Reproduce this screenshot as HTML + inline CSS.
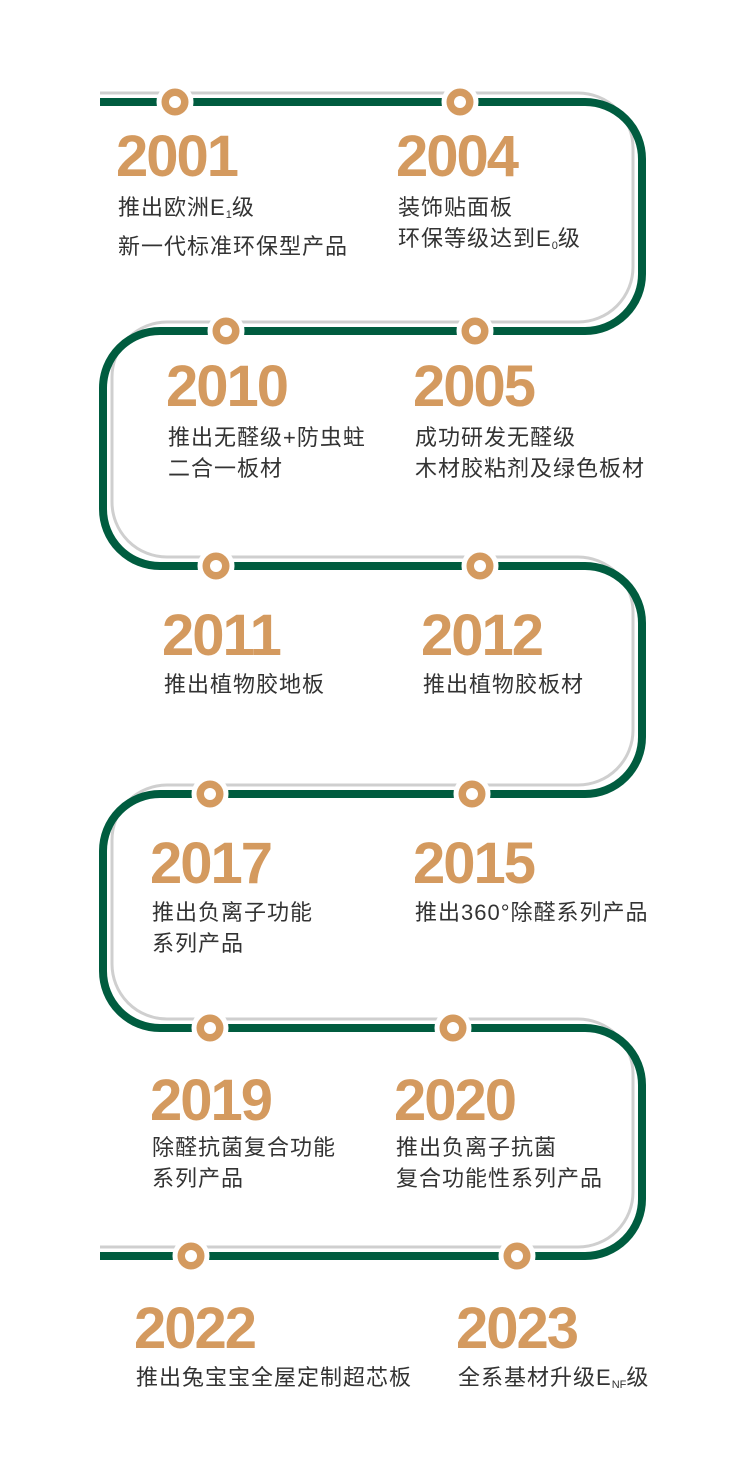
<!DOCTYPE html>
<html><head><meta charset="utf-8"><style>
body{margin:0;background:#fff;}
#w{position:relative;width:751px;height:1471px;overflow:hidden;background:#fff;font-family:"Liberation Sans","Noto Sans CJK SC",sans-serif;}
.y{position:absolute;color:#D49A5F;font-weight:bold;font-size:58px;letter-spacing:-2px;line-height:62px;}
.d{position:absolute;color:#333;font-size:22px;letter-spacing:1px;line-height:31px;white-space:nowrap;font-family:"Liberation Sans","Noto Sans CJK SC",sans-serif;}
sub{font-size:11px;vertical-align:-3px;letter-spacing:0}
svg{position:absolute;left:0;top:0}
</style></head><body><div id="w">
<svg width="751" height="1471">
<path d="M100 93 H578 A55 55 0 0 1 633 148 V267 A55 55 0 0 1 578 322 H167 A55 55 0 0 0 112 377 V502 A55 55 0 0 0 167 557 H578 A55 55 0 0 1 633 612 V730 A55 55 0 0 1 578 785 H167 A55 55 0 0 0 112 840 V964 A55 55 0 0 0 167 1019 H578 A55 55 0 0 1 633 1074 V1192 A55 55 0 0 1 578 1247 H100" fill="none" stroke="#cfcfcf" stroke-width="3"/>
<path d="M100 102 H585 A57 57 0 0 1 642 159 V274 A57 57 0 0 1 585 331 H160 A57 57 0 0 0 103 388 V509 A57 57 0 0 0 160 566 H585 A57 57 0 0 1 642 623 V737 A57 57 0 0 1 585 794 H160 A57 57 0 0 0 103 851 V971 A57 57 0 0 0 160 1028 H585 A57 57 0 0 1 642 1085 V1199 A57 57 0 0 1 585 1256 H100" fill="none" stroke="#005C3F" stroke-width="8"/>
<g fill="#D49A5F" stroke="#fff" stroke-width="5">
<circle cx="175" cy="102" r="16"/><circle cx="460" cy="102" r="16"/>
<circle cx="226" cy="331" r="16"/><circle cx="475" cy="331" r="16"/>
<circle cx="216" cy="566" r="16"/><circle cx="480" cy="566" r="16"/>
<circle cx="210" cy="794" r="16"/><circle cx="472" cy="794" r="16"/>
<circle cx="210" cy="1028" r="16"/><circle cx="453" cy="1028" r="16"/>
<circle cx="191" cy="1256" r="16"/><circle cx="517" cy="1256" r="16"/>
</g>
<g fill="#fff">
<circle cx="175" cy="102" r="6"/><circle cx="460" cy="102" r="6"/>
<circle cx="226" cy="331" r="6"/><circle cx="475" cy="331" r="6"/>
<circle cx="216" cy="566" r="6"/><circle cx="480" cy="566" r="6"/>
<circle cx="210" cy="794" r="6"/><circle cx="472" cy="794" r="6"/>
<circle cx="210" cy="1028" r="6"/><circle cx="453" cy="1028" r="6"/>
<circle cx="191" cy="1256" r="6"/><circle cx="517" cy="1256" r="6"/>
</g>
</svg>
<div class="y" style="left:116px;top:126px">2001</div>
<div class="d" style="left:118px;top:192px">推出欧洲E<sub>1</sub>级<br>新一代标准环保型产品</div>
<div class="y" style="left:396px;top:126px">2004</div>
<div class="d" style="left:398px;top:192px">装饰贴面板<br>环保等级达到E<sub>0</sub>级</div>
<div class="y" style="left:166px;top:356px">2010</div>
<div class="d" style="left:168px;top:422px">推出无醛级+防虫蛀<br>二合一板材</div>
<div class="y" style="left:413px;top:356px">2005</div>
<div class="d" style="left:415px;top:422px">成功研发无醛级<br>木材胶粘剂及绿色板材</div>
<div class="y" style="left:162px;top:605px">2011</div>
<div class="d" style="left:164px;top:669px">推出植物胶地板</div>
<div class="y" style="left:421px;top:605px">2012</div>
<div class="d" style="left:423px;top:669px">推出植物胶板材</div>
<div class="y" style="left:150px;top:833px">2017</div>
<div class="d" style="left:152px;top:897px">推出负离子功能<br>系列产品</div>
<div class="y" style="left:413px;top:833px">2015</div>
<div class="d" style="left:415px;top:897px">推出360°除醛系列产品</div>
<div class="y" style="left:150px;top:1070px">2019</div>
<div class="d" style="left:152px;top:1132px">除醛抗菌复合功能<br>系列产品</div>
<div class="y" style="left:394px;top:1070px">2020</div>
<div class="d" style="left:396px;top:1132px">推出负离子抗菌<br>复合功能性系列产品</div>
<div class="y" style="left:134px;top:1298px">2022</div>
<div class="d" style="left:136px;top:1362px">推出兔宝宝全屋定制超芯板</div>
<div class="y" style="left:456px;top:1298px">2023</div>
<div class="d" style="left:458px;top:1362px">全系基材升级E<sub>NF</sub>级</div>
</div></body></html>
